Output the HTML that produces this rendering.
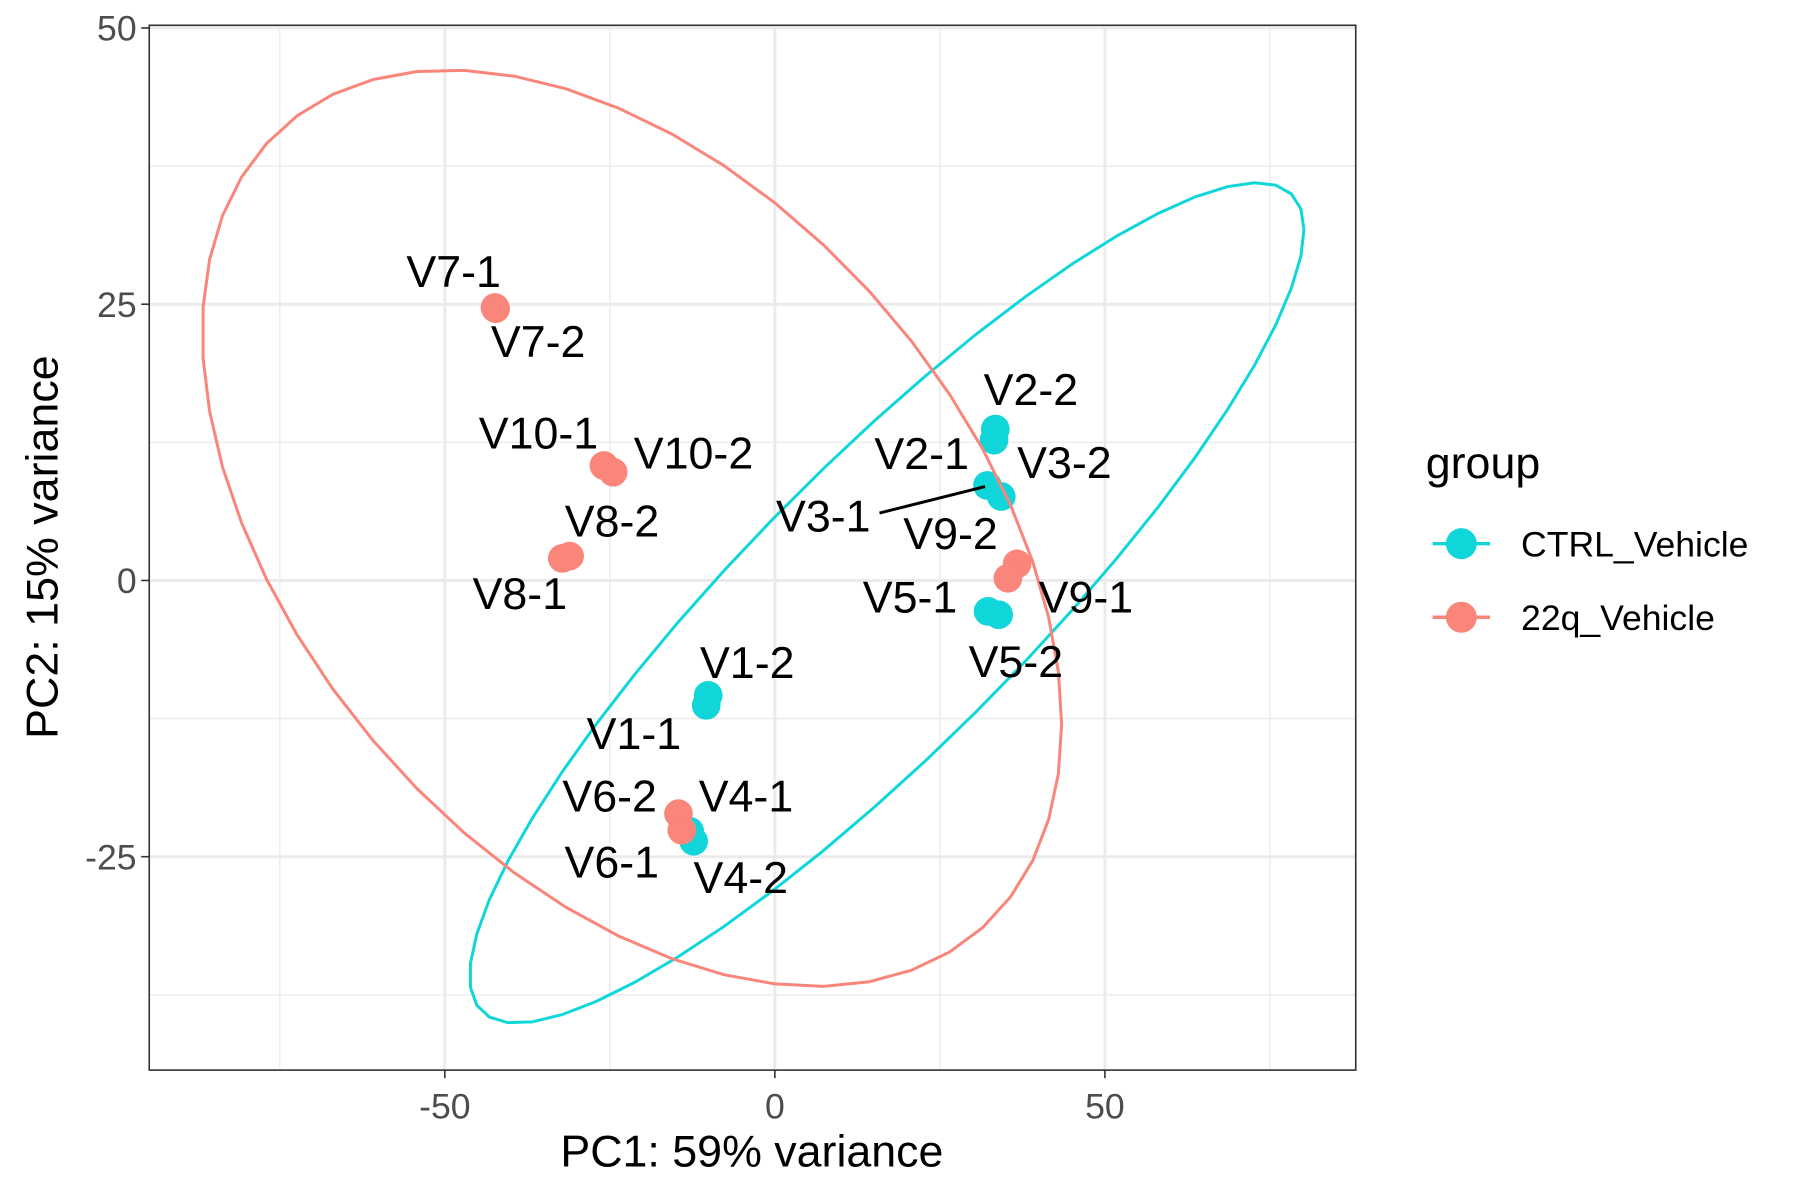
<!DOCTYPE html>
<html><head><meta charset="utf-8"><style>
html,body{margin:0;padding:0;background:#fff;}
svg{display:block;font-family:"Liberation Sans",Arial,sans-serif;}
</style></head><body>
<svg id="chart" width="1800" height="1200" viewBox="0 0 1568 1044" preserveAspectRatio="none" xmlns="http://www.w3.org/2000/svg">
<rect x="0" y="0" width="1568" height="1044" fill="#fff"/>
<g id="grid"></g>
<g id="points"></g>
<g id="ellipses"></g>
<g id="labels"></g>
<rect x="130" y="22" width="1051" height="909" fill="none" stroke="#333" stroke-width="1.4"/>
<g id="axes"></g>
<text x="655" y="1015" font-size="39" text-anchor="middle" fill="#000">PC1: 59% variance</text>
<text transform="translate(50,476) rotate(-90)" font-size="39" text-anchor="middle" fill="#000">PC2: 15% variance</text>
<g>
<text x="1242" y="416" font-size="39" fill="#000">group</text>
<g>
<line x1="1248" y1="473" x2="1298" y2="473" stroke="#10d6da" stroke-width="3"/>
<circle cx="1273" cy="473" r="13.5" fill="#10d6da"/>
<text x="1325" y="484" font-size="31" fill="#000">CTRL_Vehicle</text></g>
<g>
<line x1="1248" y1="537" x2="1298" y2="537" stroke="#fa857a" stroke-width="3"/>
<circle cx="1273" cy="537" r="13.5" fill="#fa857a"/>
<text x="1325" y="548" font-size="31" fill="#000">22q_Vehicle</text></g>
</g>
</svg>
<script>
const sampleNames = ["V2-2","V2-1","V3-1","V3-2","V5-1","V5-2","V1-2","V1-1","V4-1","V4-2","V7-1","V7-2","V10-1","V10-2","V8-2","V8-1","V9-2","V9-1","V6-2","V6-1"];
const sampleGroup = [0,0,0,0,0,0,0,0,0,0,1,1,1,1,1,1,1,1,1,1];
const pc1Values = [33.4,33.2,32.2,34.3,32.3,33.9,-10.1,-10.4,-12.9,-12.3,-42.4,-42.3,-25.9,-24.5,-31.1,-32.2,36.7,35.3,-14.6,-14.1];
const pc2Values = [13.7,12.7,8.6,7.6,-2.8,-3.1,-10.4,-11.3,-22.7,-23.6,24.7,24.6,10.4,9.8,2.2,2.0,1.5,0.2,-21.1,-22.6];
const labelDx = [31,-63,-143,55,-68,15,34,-63,49,41,-36,37,-57,70,37,-37,-58,68,-60,-61];
const labelDy = [-21,25,40,-16,1,54,-15,38,-17,45,-18,42,-15,-3,-17,44,-13,30,-2,41];
const groupNames = ["CTRL_Vehicle","22q_Vehicle"];
const groupColors = ["#10d6da","#fa857a"];
const ellipseCx = [16.96,-21.65];
const ellipseCy = [-2.03,4.73];
const ellipseA = [63.2,65.1];
const ellipseB = [38.03,41.47];
const ellipseCosPhi = [0.888,-0.428];
const xTicks = [-50,0,50];
const yTicks = [-25,0,25,50];
const xMinor = [-75,-25,25,75];
const yMinor = [-37.5,-12.5,12.5,37.5];

const NS="http://www.w3.org/2000/svg";
const X = v => 675 + v*5.75;
const Y = v => 505 - v*9.613;
const P0={l:130,r:1181,t:22,b:931};
function mk(tag,attrs,parent){const e=document.createElementNS(NS,tag);for(const k in attrs)e.setAttribute(k,attrs[k]);parent.appendChild(e);return e;}
const grid=document.getElementById('grid');
xMinor.forEach(v=>{const e=mk('line',{x1:X(v),x2:X(v),y1:P0.t,y2:P0.b,stroke:'#ebebeb','stroke-width':1.2},grid);

});
yMinor.forEach(v=>{const e=mk('line',{x1:P0.l,x2:P0.r,y1:Y(v),y2:Y(v),stroke:'#ebebeb','stroke-width':1.2},grid);

});
xTicks.forEach(v=>{const e=mk('line',{x1:X(v),x2:X(v),y1:P0.t,y2:P0.b,stroke:'#ebebeb','stroke-width':2.6},grid);

});
yTicks.forEach(v=>{if(Y(v)<P0.t)return;const e=mk('line',{x1:P0.l,x2:P0.r,y1:Y(v),y2:Y(v),stroke:'#ebebeb','stroke-width':2.6},grid);

});
const axes=document.getElementById('axes');
xTicks.forEach(v=>{mk('line',{x1:X(v),x2:X(v),y1:P0.b,y2:P0.b+7,stroke:'#333','stroke-width':1.4},axes);
const t=mk('text',{x:X(v),y:973,'font-size':31,'text-anchor':'middle',fill:'#4d4d4d'},axes);t.textContent=v;

});
yTicks.forEach(v=>{mk('line',{x1:P0.l-7,x2:P0.l,y1:Y(v),y2:Y(v),stroke:'#333','stroke-width':1.4},axes);
const t=mk('text',{x:P0.l-11,y:Y(v)+11,'font-size':31,'text-anchor':'end',fill:'#4d4d4d'},axes);t.textContent=v;

});
const pts=document.getElementById('points');
pc1Values.forEach((v,i)=>{const c=mk('circle',{cx:X(v),cy:Y(pc2Values[i]),r:12.5,fill:groupColors[sampleGroup[i]]},pts);

});
const ell=document.getElementById('ellipses');
ellipseCx.forEach((cx,g)=>{const phi=Math.acos(ellipseCosPhi[g]);const p=[];
for(let k=0;k<=51;k++){const t=2*Math.PI*k/51;p.push(X(cx+ellipseA[g]*Math.cos(t)).toFixed(1)+','+Y(ellipseCy[g]+ellipseB[g]*Math.cos(t+phi)).toFixed(1));}
const e=mk('polyline',{points:p.join(' '),fill:'none',stroke:groupColors[g],'stroke-width':2.6},ell);

});
const lab=document.getElementById('labels');
sampleNames.forEach((n,i)=>{const px=X(pc1Values[i]),py=Y(pc2Values[i]);
const lx=px+labelDx[i],ly=py+labelDy[i];
if(n==="V3-1"){const s=mk('line',{x1:lx+49,y1:ly-16,x2:px-2,y2:py+1,stroke:'#000','stroke-width':2.6},lab);

}
const t=mk('text',{x:lx,y:ly,'font-size':39,'text-anchor':'middle',fill:'#000'},lab);t.textContent=n;

});
</script>
</body></html>
